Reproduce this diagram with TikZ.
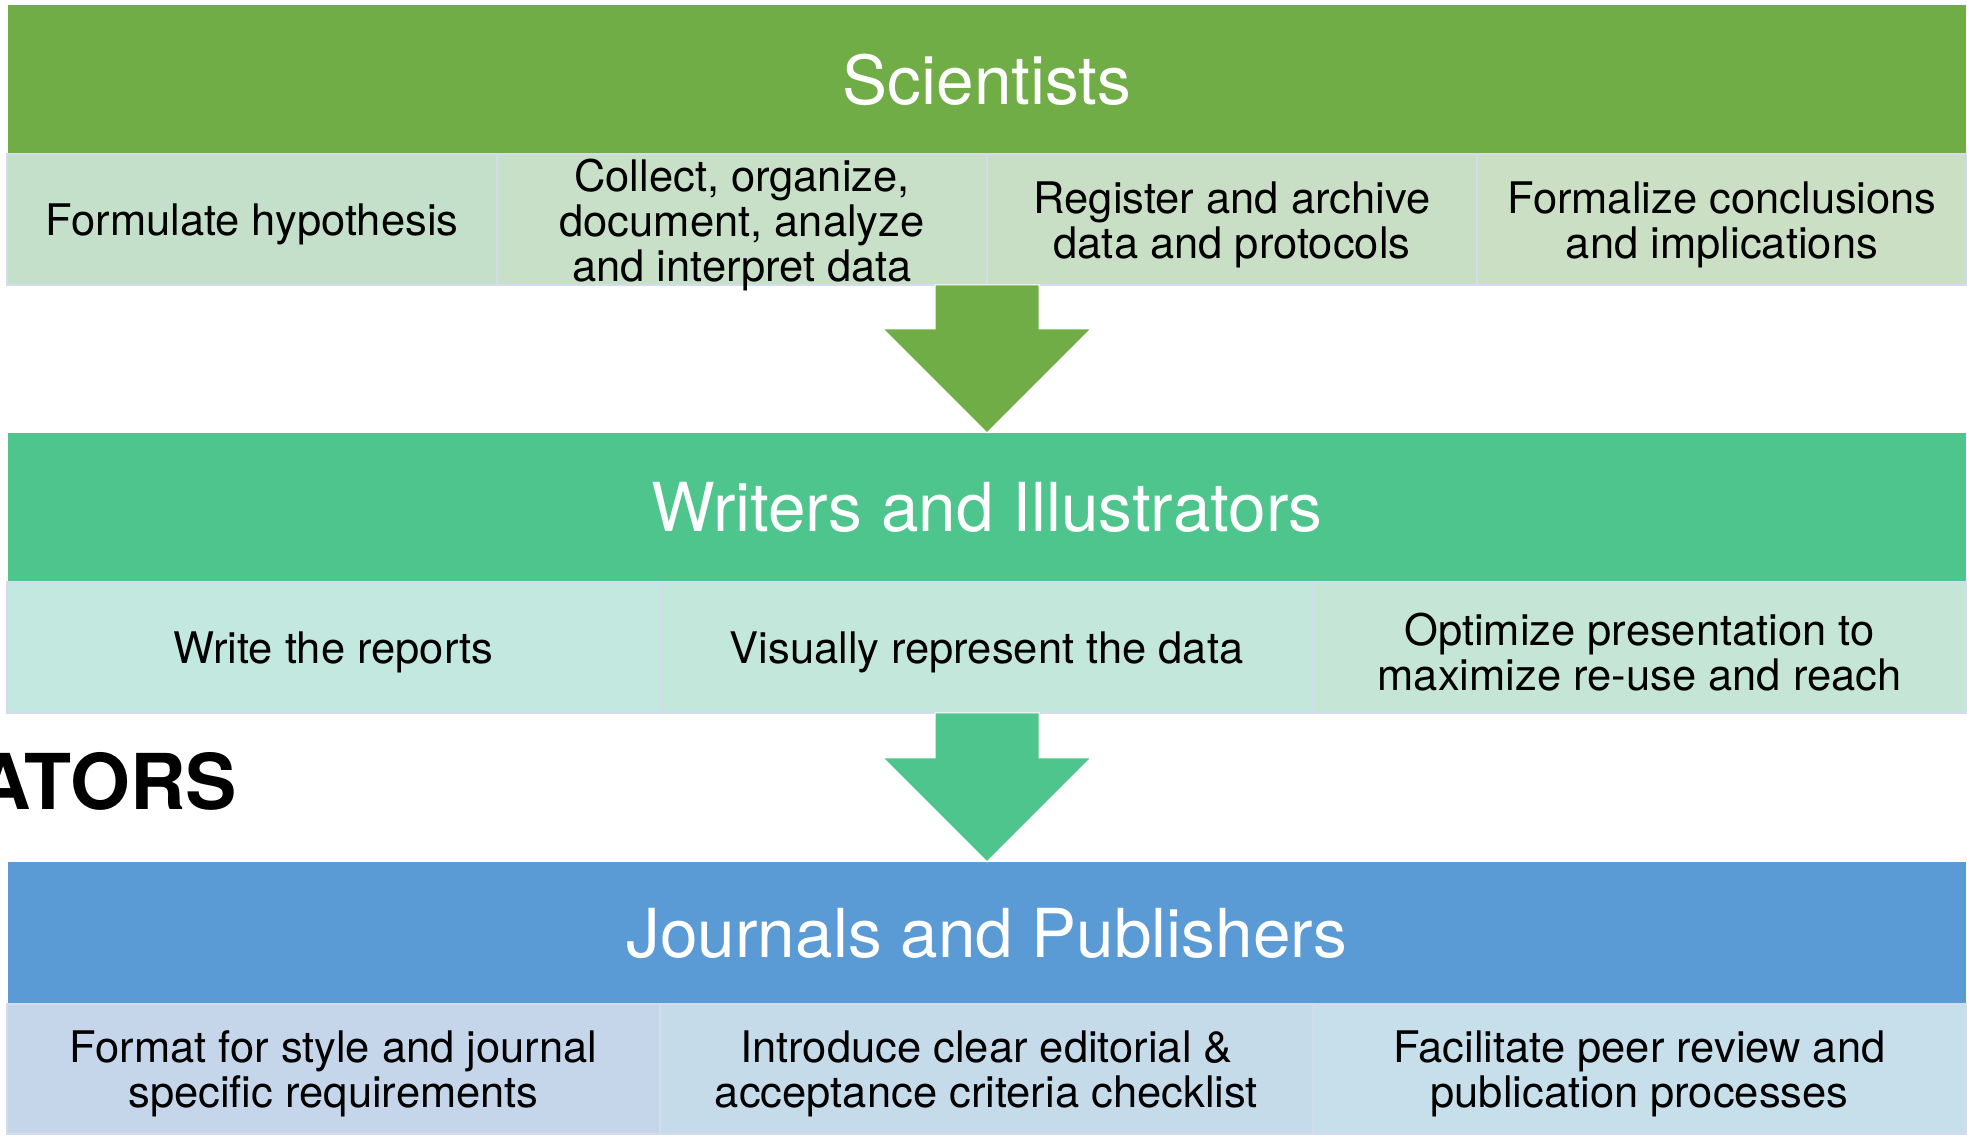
\documentclass[tikz,border=0pt]{standalone}
\usepackage{fontspec}
\setmainfont{TeX Gyre Heros}
\usetikzlibrary{calc}
\definecolor{sciG}{HTML}{70AD47}
\definecolor{wrG}{HTML}{4EC58C}
\definecolor{jpB}{HTML}{5B9BD5}
\definecolor{sA}{HTML}{C5E0CA}
\definecolor{sB}{HTML}{C7E0C7}
\definecolor{sC}{HTML}{C9DFC5}
\definecolor{sD}{HTML}{CADFC4}
\definecolor{wA}{HTML}{C2E8DF}
\definecolor{wB}{HTML}{C3E7DA}
\definecolor{wC}{HTML}{C5E6D6}
\definecolor{jA}{HTML}{C5D6EB}
\definecolor{jB}{HTML}{C5DBEA}
\definecolor{jC}{HTML}{C6DFEA}
\definecolor{cellborder}{HTML}{D3DCEC}
\begin{document}
\begin{tikzpicture}[x=1pt,y=-1pt,
  hdr/.style={inner sep=0pt, text=white, minimum width=1958pt,
    font=\fontsize{67.5}{72}\selectfont},
  cell/.style={draw=cellborder, line width=2pt, inner sep=0pt, minimum height=131pt},
  cellfour/.style={cell, minimum width=490pt},
  cellthree/.style={cell, minimum width=653pt},
  celltext/.style={inner sep=0pt, align=center, text=black, yshift=-5pt,
    font=\fontsize{43.5}{45}\selectfont},
  blockarrow/.style={draw=white, line width=1pt}
]
\clip (0,0) rectangle (1967,1135);
\useasboundingbox (0,0) rectangle (1967,1135);

% Scientists
\node[hdr, fill=sciG, minimum height=149pt] (sci) at (987,79.5) {Scientists};
\node[cellfour, fill=sA] (s1) at (252,219.5) {};
\node[cellfour, fill=sB] (s2) at (742,219.5) {};
\node[cellfour, fill=sC] (s3) at (1232,219.5) {};
\node[cellfour, fill=sD] (s4) at (1722,219.5) {};
\node[celltext] (s1t) at (s1.center) {Formulate hypothesis};
\node[celltext] (s2t) at (s2.center) {Collect, organize,\\document, analyze\\and interpret data};
\node[celltext] (s3t) at (s3.center) {Register and archive\\data and protocols};
\node[celltext] (s4t) at (s4.center) {Formalize conclusions\\and implications};

% Writers
\node[hdr, fill=wrG, minimum height=149pt] (wr) at (987,507.5) {Writers and Illustrators};
\node[cellthree, fill=wA] (w1) at (333.5,647.5) {};
\node[cellthree, fill=wB] (w2) at (986.5,647.5) {};
\node[cellthree, fill=wC] (w3) at (1639.5,647.5) {};
\node[celltext] (w1t) at (w1.center) {Write the reports};
\node[celltext] (w2t) at (w2.center) {Visually represent the data};
\node[celltext] (w3t) at (w3.center) {Optimize presentation to\\maximize re-use and reach};

% Journals
\node[hdr, fill=jpB, minimum height=142pt] (jp) at (987,933) {Journals and Publishers};
\node[cellthree, fill=jA, minimum height=130pt] (j1) at (333.5,1069) {};
\node[cellthree, fill=jB, minimum height=130pt] (j2) at (986.5,1069) {};
\node[cellthree, fill=jC, minimum height=130pt] (j3) at (1639.5,1069) {};
\node[celltext] (j1t) at (j1.center) {Format for style and journal\\specific requirements};
\node[celltext] (j2t) at (j2.center) {Introduce clear editorial \&\\acceptance criteria checklist};
\node[celltext] (j3t) at (j3.center) {Facilitate peer review and\\publication processes};

% block arrows
\filldraw[blockarrow, fill=sciG] (wr.north) -- ++(-104,-104) -- ++(52,0) -- ++(0,-44)
  -- ++(104,0) -- ++(0,44) -- ++(52,0) -- cycle;
\filldraw[blockarrow, fill=wrG] (jp.north) -- ++(-104,-104) -- ++(52,0) -- ++(0,-45)
  -- ++(104,0) -- ++(0,45) -- ++(52,0) -- cycle;

% cut-off label
\node[anchor=base west, inner sep=0pt, font=\bfseries\fontsize{77}{80}\selectfont] (lbl) at (-25,809) {ATORS};
\end{tikzpicture}
\end{document}
